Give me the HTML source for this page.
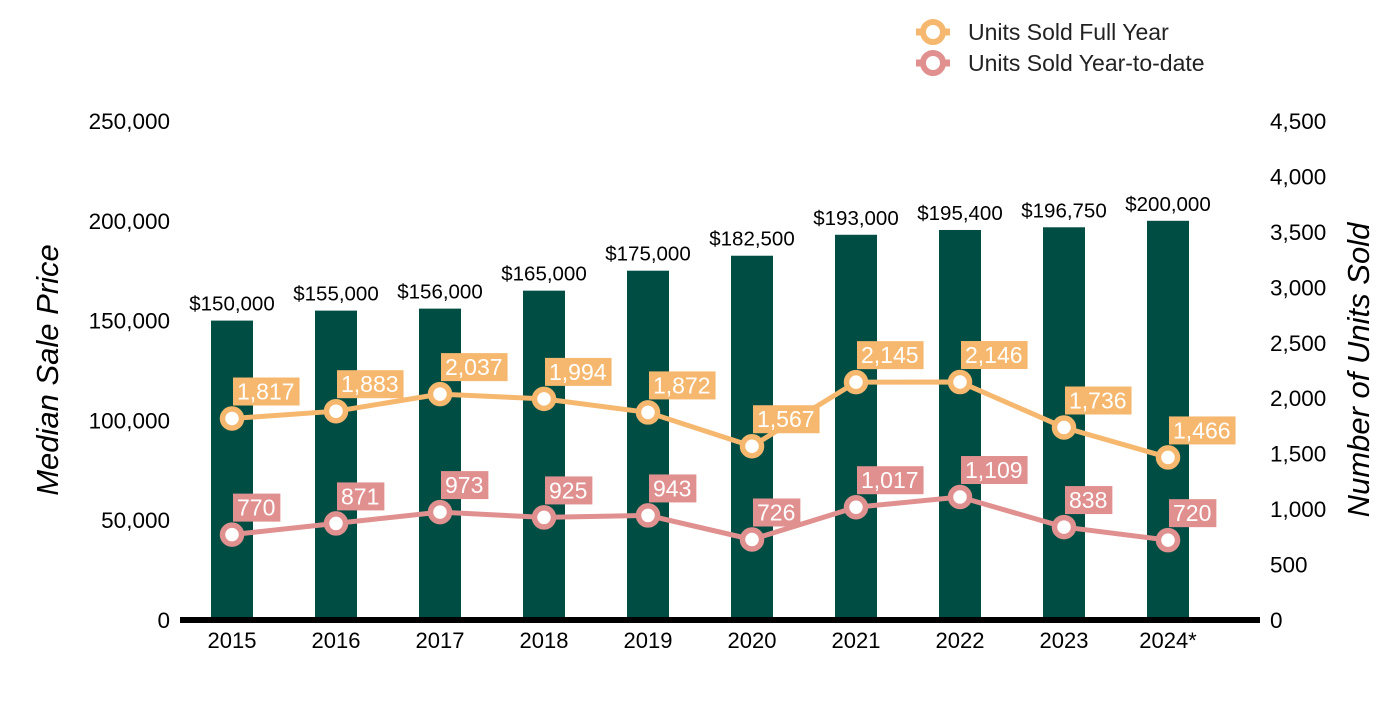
<!DOCTYPE html>
<html><head><meta charset="utf-8"><style>
body{margin:0;background:#fff;}
svg text{font-family:"Liberation Sans",Arial,sans-serif;}
</style></head><body>
<svg id="c" width="1400" height="700" xmlns="http://www.w3.org/2000/svg">
<g>
 <g>
  <line x1="916" y1="32" x2="950" y2="32" stroke="#F6B86E" stroke-width="7"/>
  <circle cx="933" cy="32" r="10" fill="#fff" stroke="#F6B86E" stroke-width="6"/>
  <text x="968" y="40" font-size="23" fill="#222">Units Sold Full Year</text>
 </g>
 <g>
  <line x1="916" y1="63" x2="950" y2="63" stroke="#E0908F" stroke-width="7"/>
  <circle cx="933" cy="63" r="10" fill="#fff" stroke="#E0908F" stroke-width="6"/>
  <text x="968" y="71" font-size="23" fill="#222">Units Sold Year-to-date</text>
 </g>
</g>
<text transform="translate(58,370) rotate(-90)" text-anchor="middle" font-size="31" font-style="italic" fill="#000">Median Sale Price</text>
<text transform="translate(1369,370) rotate(-90)" text-anchor="middle" font-size="31" font-style="italic" fill="#000">Number of Units Sold</text>
<g id="plot"></g>
</svg>
<script>
const years=["2015","2016","2017","2018","2019","2020","2021","2022","2023","2024*"];
const prices=[150000,155000,156000,165000,175000,182500,193000,195400,196750,200000];
const fullYear=[1817,1883,2037,1994,1872,1567,2145,2146,1736,1466];
const ytd=[770,871,973,925,943,726,1017,1109,838,720];
const leftTicks=[0,50000,100000,150000,200000,250000];
const rightTicks=[0,500,1000,1500,2000,2500,3000,3500,4000,4500];

const NS="http://www.w3.org/2000/svg";
const g=document.getElementById('plot');
const y0=620,yTop=121;
const yL=v=>y0-v*(y0-yTop)/250000;
const yR=v=>y0-v*(y0-yTop)/4500;
const xC=i=>232+i*104;
const fmt=n=>n.toLocaleString('en-US');
function mk(tag,at,txt){const e=document.createElementNS(NS,tag);for(const k in at)e.setAttribute(k,at[k]);if(txt!=null)e.textContent=txt;g.appendChild(e);return e;}

leftTicks.forEach(t=>{const e=mk('text',{x:170,y:yL(t)+8,'text-anchor':'end','font-size':22.5,fill:'#000'},fmt(t));

});
rightTicks.forEach(t=>{const e=mk('text',{x:1270,y:yR(t)+8,'font-size':22.5,fill:'#000'},fmt(t));

});

prices.forEach((p,i)=>{
 const b=mk('rect',{x:xC(i)-21,y:yL(p),width:42,height:y0-yL(p),fill:'#004D44'});
 
 
 const l=mk('text',{x:xC(i),y:yL(p)-10,'text-anchor':'middle','font-size':20.5,fill:'#000'},'$'+fmt(p));
 
 
 const xl=mk('text',{x:xC(i),y:648,'text-anchor':'middle','font-size':22,fill:'#000'},years[i]);
 
 
});
const ax=mk('line',{x1:180,y1:620,x2:1260,y2:620,stroke:'#000','stroke-width':6});



function series(vals,color,name){
 const pl=mk('polyline',{points:vals.map((v,i)=>xC(i)+','+yR(v)).join(' '),fill:'none',stroke:color,'stroke-width':5});
 
 
 vals.forEach((v,i)=>{
  const c=mk('circle',{cx:xC(i),cy:yR(v),r:9.5,fill:'#fff',stroke:color,'stroke-width':5.5});
  
  
 });
 vals.forEach((v,i)=>{
  const s=fmt(v);
  const r=mk('rect',{x:xC(i)+1,y:yR(v)-41,width:10,height:28,fill:color});
  
  
  const t=mk('text',{x:xC(i)+5,y:yR(v)-19,'font-size':23,fill:'#fff'},s);
  
  
  r.setAttribute('width',t.getComputedTextLength()+9);
 });
}
series(fullYear,'#F6B86E','full-year');
series(ytd,'#E0908F','ytd');
</script>
</body></html>
